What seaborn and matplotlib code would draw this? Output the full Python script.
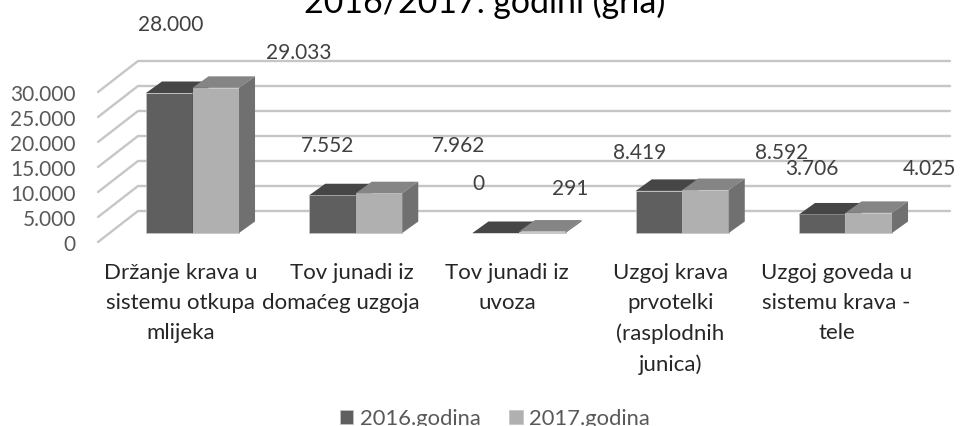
import numpy as np
import pandas as pd
import seaborn as sns
import matplotlib
matplotlib.use("Agg")
import matplotlib.pyplot as plt

categories = ["Držanje krava u\nsistemu otkupa\nmlijeka",
              "    Tov junadi iz\ndomaćeg uzgoja",
              "Tov junadi iz\nuvoza",
              "Uzgoj krava\nprvotelki\n(rasplodnih\njunica)",
              "Uzgoj goveda u\nsistemu krava -\ntele"]
values_2016 = [28000, 7552, 0, 8419, 3706]
values_2017 = [29033, 7962, 291, 8592, 4025]
series_names = ["2016.godina", "2017.godina"]
y_tick_values = [0, 5000, 10000, 15000, 20000, 25000, 30000]
title_text = "2016/2017. godini (grla)"

# layout (pixels of the 960x427 figure)
W, H = 960, 427
AX_L, AX_R, AX_T, AX_B = 98, 950, 50, 250
BASE_PX, PX_PER_UNIT = 234, 0.005
GROUP0_PX, GROUP_STEP = 192.5, 163.25
DEPTH_X, DEPTH_Y = 16, 11.5
# label offsets from the top centre of each bar (px right, px up)
offs_2016 = [(1, 69), (-5, 50), (-17, 50), (-19, 39), (-10, 46)]
offs_2017 = [(83, 36), (80, 48), (28, 44), (76, 38), (61, 45)]
tick_shift_px = [-12, -15, -12, -12, -9]

FONT = "Lato"
TXT = "#595959"
sns.set_theme(style="white")
plt.rcParams["font.family"] = [FONT, "DejaVu Sans"]

fig = plt.figure(figsize=(W / 100, H / 100), dpi=100)
ax = fig.add_axes([AX_L / W, 1 - AX_B / H, (AX_R - AX_L) / W, (AX_B - AX_T) / H])

df = pd.DataFrame({
    "kategorija": categories * 2,
    "vrijednost": values_2016 + values_2017,
    "godina": [series_names[0]] * 5 + [series_names[1]] * 5,
})
sns.barplot(data=df, x="kategorija", y="vrijednost", hue="godina",
            palette=["#5f5f5f", "#b0b0b0"], saturation=1, width=0.57, gap=0,
            edgecolor="#c4c4c4", linewidth=0.5, ax=ax, errorbar=None)

xpx = lambda p: (p - GROUP0_PX) / GROUP_STEP
ypx = lambda p: (BASE_PX - p) / PX_PER_UNIT
ax.set_xlim(xpx(AX_L), xpx(AX_R))
ax.set_ylim(ypx(AX_B), ypx(AX_T))
dx = DEPTH_X / GROUP_STEP
dy = DEPTH_Y / PX_PER_UNIT

# oblique wall gridlines
front_drop = 9 / PX_PER_UNIT
back_rise = 22 / PX_PER_UNIT
for v in y_tick_values:
    ax.plot([xpx(98), xpx(138), xpx(AX_R)],
            [v - front_drop, v + back_rise, v + back_rise],
            color="#c6c6c6", lw=1.7, zorder=0.5, solid_capstyle="round",
            solid_joinstyle="round", clip_on=False)

# 3D faces from the bars themselves
face_cols = [("#464646", "#505050"), ("#858585", "#707070")]
for k, cont in enumerate(ax.containers):
    top_col, side_col = face_cols[k]
    for r in cont.patches:
        r.set_zorder(2 + k)
        x0, w, h = r.get_x(), r.get_width(), r.get_height()
        ax.fill([x0, x0 + dx, x0 + w + dx, x0 + w], [h, h + dy, h + dy, h],
                color=top_col, lw=0, zorder=2 + k)
        ax.fill([x0 + w, x0 + w + dx, x0 + w + dx, x0 + w], [0, dy, h + dy, h],
                color=side_col, lw=0, zorder=2 + k)

# data labels
for cont, vals, offs in zip(ax.containers, (values_2016, values_2017), (offs_2016, offs_2017)):
    for r, v, (ox, oy) in zip(cont.patches, vals, offs):
        s = f"{v:,}".replace(",", ".")
        ax.annotate(s, (r.get_x() + r.get_width() / 2, v), xytext=(ox * 0.72, oy * 0.72),
                    textcoords="offset points", ha="center", va="center",
                    fontsize=15, color="#404040", zorder=6, annotation_clip=False)

ax.set_yticks([v - front_drop for v in y_tick_values])
ax.set_yticklabels([f"{v:,}".replace(",", ".") for v in y_tick_values], fontsize=15, color=TXT)
ax.set_xticks(np.arange(5) + np.array(tick_shift_px) / GROUP_STEP)
ax.set_xticklabels(categories, fontsize=16, color="#262626", linespacing=1.62)
ax.tick_params(axis="y", length=0, pad=16)
ax.tick_params(axis="x", length=0, pad=9.5)
ax.set_xlabel("")
ax.set_ylabel("")
sns.despine(ax=ax, left=True, bottom=True)

handles, labels = ax.get_legend_handles_labels()
ax.get_legend().remove()
fig.legend(handles, labels, loc="center", bbox_to_anchor=(495 / W, 1 - 419.5 / H), ncol=2,
           frameon=False, fontsize=15.8, labelcolor=TXT, handlelength=0.62, handleheight=0.62,
           handletextpad=0.3, columnspacing=1.3, borderpad=0)

fig.text(485 / W, 1 - 13 / H, title_text, ha="center", va="baseline", fontsize=24.4, color="black")
fig.savefig("out.png", dpi=100)
